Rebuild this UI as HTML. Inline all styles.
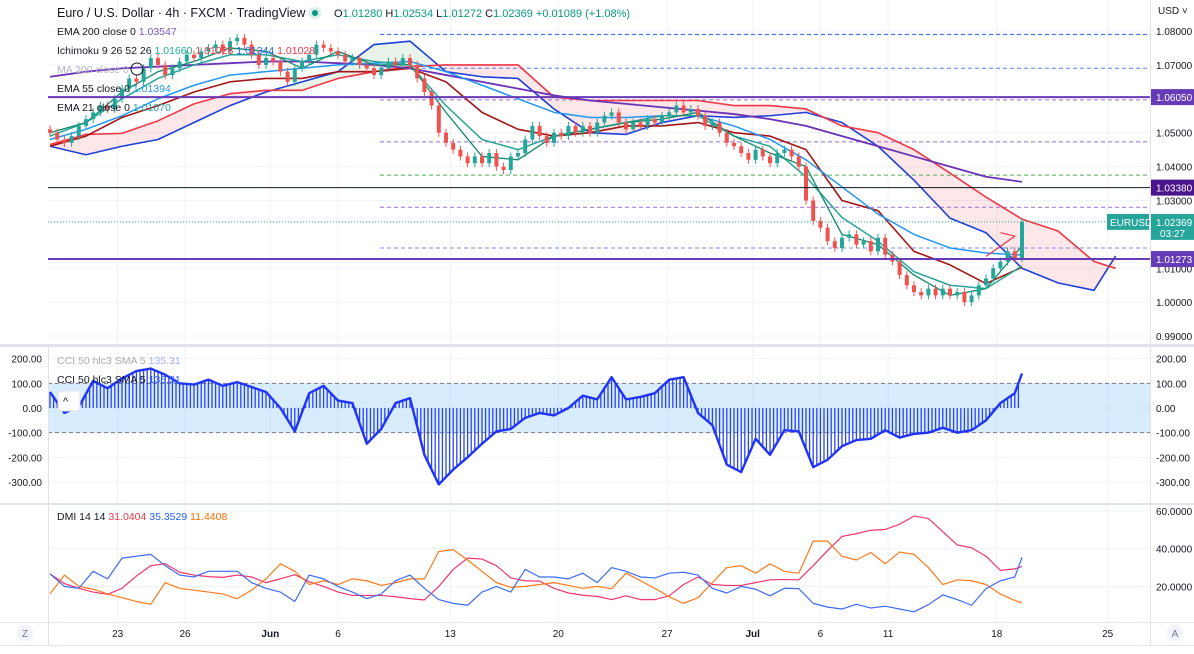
<!DOCTYPE html>
<html><head><meta charset="utf-8">
<style>
html,body{margin:0;padding:0;background:#fff;}
body{width:1194px;height:649px;overflow:hidden;font-family:"Liberation Sans",sans-serif;}
svg text{font-family:"Liberation Sans",sans-serif;}
</style></head>
<body>
<svg id="c" width="1194" height="649" viewBox="0 0 1194 649" xmlns="http://www.w3.org/2000/svg">
<defs>
<clipPath id="mainClip"><rect x="48" y="0" width="1102" height="343"/></clipPath>
<clipPath id="cciClip"><rect x="48" y="346" width="1102" height="156"/></clipPath>
<clipPath id="dmiClip"><rect x="48" y="505" width="1102" height="117"/></clipPath>
</defs>
<g id="grid"></g>
<g id="main" clip-path="url(#mainClip)"></g>
<g id="cci" clip-path="url(#cciClip)"></g>
<g id="dmi" clip-path="url(#dmiClip)"></g>
<g id="axes"></g>
<g id="legend">
<text x="57" y="17" font-size="12.5" fill="#131722">Euro / U.S. Dollar · 4h · FXCM · TradingView</text>
<circle cx="315" cy="13" r="6" fill="#d8efe9"/>
<circle cx="315" cy="13" r="3" fill="#089981"/>
<text x="334" y="17" font-size="11" fill="#089981"><tspan fill="#131722">O</tspan>1.01280 <tspan fill="#131722">H</tspan>1.02534 <tspan fill="#131722">L</tspan>1.01272 <tspan fill="#131722">C</tspan>1.02369 +0.01089 (+1.08%)</text>
<text x="57" y="35" font-size="10.5" fill="#131722">EMA 200 close 0 <tspan fill="#7e57c2">1.03547</tspan></text>
<text x="57" y="54" font-size="10.5" fill="#131722">Ichimoku 9 26 52 26 <tspan fill="#22ab94">1.01660</tspan> <tspan fill="#f23645">1.01028</tspan> <tspan fill="#2962ff">1.01344</tspan> <tspan fill="#f23645">1.01028</tspan></text>
<text x="57" y="73" font-size="10.5" fill="#b2b5be">MA 200 close 0</text>
<circle cx="137" cy="69" r="6" fill="none" stroke="#131722" stroke-width="1"/>
<text x="57" y="92" font-size="10.5" fill="#131722">EMA 55 close 0 <tspan fill="#2196f3">1.01394</tspan></text>
<text x="57" y="111" font-size="10.5" fill="#131722">EMA 21 close 0 <tspan fill="#26a69a">1.01070</tspan></text>
<rect x="58" y="391" width="22" height="20" rx="3" fill="#fff" stroke="#e0e3eb"/>
<text x="63" y="405" font-size="11" fill="#131722">^</text>
<text x="57" y="364" font-size="10.5" fill="#9598a1" opacity="0.8">CCI 50 hlc3 SMA 5 <tspan fill="#8c9eff">135.31</tspan></text>
<text x="57" y="383" font-size="10.5" fill="#131722">CCI 50 hlc3 SMA 5 <tspan fill="#2962ff">135.31</tspan></text>
<text x="57" y="520" font-size="10.5" fill="#131722">DMI 14 14 <tspan fill="#f23645"> 31.0404</tspan> <tspan fill="#2962ff">35.3529</tspan> <tspan fill="#ff6d00">11.4408</tspan></text>
</g>
</svg>
<script>
// ---- data ----
const closes=[1.050,1.048,1.047,1.049,1.052,1.054,1.056,1.058,1.057,1.060,1.063,1.066,1.065,1.069,1.072,1.070,1.067,1.069,1.071,1.073,1.072,1.074,1.075,1.076,1.074,1.077,1.078,1.076,1.073,1.070,1.072,1.071,1.068,1.065,1.069,1.071,1.073,1.076,1.075,1.074,1.073,1.071,1.072,1.070,1.069,1.067,1.069,1.071,1.070,1.072,1.070,1.066,1.062,1.058,1.050,1.047,1.045,1.043,1.041,1.043,1.041,1.044,1.040,1.039,1.043,1.044,1.048,1.052,1.049,1.047,1.050,1.049,1.052,1.050,1.052,1.050,1.053,1.055,1.056,1.053,1.051,1.053,1.052,1.054,1.053,1.055,1.056,1.058,1.056,1.057,1.055,1.052,1.053,1.050,1.047,1.046,1.044,1.042,1.045,1.043,1.041,1.044,1.045,1.043,1.040,1.030,1.024,1.022,1.018,1.016,1.019,1.020,1.017,1.018,1.015,1.019,1.014,1.012,1.008,1.005,1.003,1.002,1.004,1.002,1.004,1.002,1.003,1.000,1.002,1.005,1.007,1.010,1.012,1.015,1.013,1.0237];
const firstOpen=1.051;
const ema200=[1.0665,1.068,1.069,1.0695,1.070,1.0705,1.071,1.071,1.0705,1.070,1.069,1.067,1.065,1.063,1.061,1.0595,1.0585,1.0575,1.0565,1.0555,1.054,1.052,1.049,1.046,1.043,1.040,1.037,1.0355];
const ema55=[1.048,1.051,1.055,1.060,1.064,1.067,1.068,1.069,1.070,1.0705,1.071,1.068,1.064,1.060,1.056,1.0545,1.0545,1.055,1.055,1.052,1.048,1.042,1.034,1.026,1.020,1.016,1.0145,1.0139];
const ema21=[1.049,1.053,1.060,1.066,1.070,1.073,1.073,1.071,1.073,1.071,1.070,1.058,1.048,1.045,1.049,1.051,1.053,1.055,1.055,1.049,1.046,1.037,1.025,1.018,1.009,1.005,1.004,1.0107];
const tenkan=[1.050,1.053,1.062,1.068,1.071,1.075,1.074,1.069,1.074,1.070,1.070,1.056,1.043,1.042,1.049,1.051,1.053,1.054,1.056,1.049,1.044,1.040,1.020,1.017,1.008,1.002,1.004,1.0166];
const kijun=[1.046,1.049,1.0545,1.058,1.062,1.065,1.066,1.066,1.068,1.068,1.069,1.065,1.056,1.051,1.049,1.050,1.052,1.052,1.053,1.050,1.049,1.045,1.030,1.027,1.015,1.011,1.0055,1.0103];
const spanA=[1.046,1.0435,1.046,1.048,1.053,1.058,1.062,1.065,1.068,1.076,1.077,1.068,1.0665,1.066,1.057,1.050,1.0495,1.053,1.055,1.0545,1.055,1.056,1.053,1.046,1.036,1.0248,1.0205,1.010,1.0057,1.0035,1.0136];
const spanB=[1.0465,1.0495,1.0498,1.0535,1.0585,1.0615,1.0625,1.0625,1.066,1.068,1.0695,1.070,1.070,1.070,1.0605,1.0595,1.0595,1.0595,1.0595,1.058,1.058,1.057,1.052,1.050,1.045,1.0381,1.031,1.0245,1.021,1.012,1.010];
const cloudIdx=[0,5,10,15,20,25,30,35,40,45,50,55,60,65,70,75,80,85,90,95,100,105,110,115,120,125,130,135,140,145,148];
const cciVals=[65,-20,5,110,80,120,150,160,135,100,95,115,90,105,85,65,0,-95,60,90,30,20,-145,-85,20,40,-190,-310,-250,-200,-145,-95,-85,-40,-20,-30,0,50,35,125,35,45,60,115,125,-20,-70,-230,-260,-125,-190,-90,-95,-240,-210,-155,-130,-125,-90,-120,-105,-100,-80,-100,-90,-50,20,60,140];
const plusDI=[26.7,20,19,28,24,35,36,37,31,26,25,28,28,28,22,19,17,12,26,24,20,17,13.5,16,23,26,19,13,11,10,17,20,17,29,25,25,24,27,22,30,28,25,24.5,27,27.5,26,19,16.5,20,18.5,15,19,18.8,11,9,8,10.5,8.5,9.5,8,6.5,10.3,15.5,13,10,18.8,23,25,35.4];
const adx=[26.7,21.5,19,17,15.8,19,25.5,31,32,27.5,26,25.2,24.8,26,25,22,24,26.2,22.5,20,17,15.2,15.2,15.2,14.5,13.5,12.8,20,29,35,34.5,31,24.5,23,22.8,19,16.5,15.3,14.7,13,15,13,13,15,21,25,21,20.5,20.5,22,23.5,23.7,23.5,31,39,46.5,48,49.8,50.2,53,57.3,56,49,42,40.5,36,28.5,29.3,30.6];
const minusDI=[16,26,20,18.5,16,14,12,10.5,22,19,18,17,16,13.5,18,24,32,28,21,23,21,24,23,20.5,22,24,24,38.5,39.5,34,28,22,19.5,20,21,22,20.5,19,20,18.8,27,23,19,14.5,11,14,22,30,31,27,32,28,27,44,44,36,34,38,32,38.2,37,30,21,23.5,23,21,16,12.5,11.2];
const priceTicks=[1.08,1.07,1.05,1.04,1.03,1.01,1.00,0.99];
const priceTickLabels=["1.08000","1.07000","1.05000","1.04000","1.03000","1.01000","1.00000","0.99000"];
const cciTicks=[200,100,0,-100,-200,-300];
const cciTickLabels=["200.00","100.00","0.00","-100.00","-200.00","-300.00"];
const dmiTicks=[60,40,20];
const dmiTickLabels=["60.0000","40.0000","20.0000"];
const dateIdx=[9.4,18.75,30.6,40,55.6,70.6,85.7,97.6,107,116.4,131.5,146.9];
const dateLabels=["23","26","Jun","6","13","20","27","Jul","6","11","18","25"];
const dateBold=[false,false,true,false,false,false,false,true,false,false,false,false];
const hLevels=[1.0605,1.0338,1.01273];
const hLabels=["1.06050","1.03380","1.01273"];
const hColors=["#673ab7","#4a148c","#673ab7"];
const dashLevels=[1.0790,1.0690,1.0597,1.0473,1.0375,1.0280,1.0160];
const dashColors=["#2962ff","#5b7cfa","#9c6ce0","#9c6ce0","#4caf50","#9c6ce0","#7b8cfa"];
const lastPrice=1.02369;

// ---- scales ----
const xi=i=>50+i*7.2;
const yp=p=>31+(1.08-p)*3390;
const yc=v=>408-v*0.2465;
const yd=v=>511+(60-v)*1.885;
const NS="http://www.w3.org/2000/svg";
function mk(tag,parent,attrs){const e=document.createElementNS(NS,tag);for(const k in attrs)e.setAttribute(k,attrs[k]);parent.appendChild(e);return e;}
const G=id=>document.getElementById(id);
const grid=G('grid'),main=G('main'),cci=G('cci'),dmi=G('dmi'),axes=G('axes');

dateIdx.forEach(i=>{const x=xi(i);
 const l=mk('line',grid,{x1:x,x2:x,y1:0,y2:622,stroke:'#f0f3fa','stroke-width':1});
 
 });
priceTicks.forEach(p=>{const l=mk('line',grid,{x1:48,x2:1150,y1:yp(p),y2:yp(p),stroke:'#f0f3fa'});
 
 });
cciTicks.forEach(v=>{const l=mk('line',grid,{x1:48,x2:1150,y1:yc(v),y2:yc(v),stroke:'#f0f3fa'});
 
 });
dmiTicks.forEach(v=>{const l=mk('line',grid,{x1:48,x2:1150,y1:yd(v),y2:yd(v),stroke:'#f0f3fa'});
 
 });

for(let k=0;k<cloudIdx.length-1;k++){
 const x1=xi(cloudIdx[k]),x2=xi(cloudIdx[k+1]);
 const up=(spanA[k]+spanA[k+1])>=(spanB[k]+spanB[k+1]);
 const pg=mk('polygon',main,{points:`${x1},${yp(spanA[k])} ${x2},${yp(spanA[k+1])} ${x2},${yp(spanB[k+1])} ${x1},${yp(spanB[k])}`,fill:up?'rgba(67,160,71,0.12)':'rgba(242,54,69,0.12)'});
 
 
}
function line(parent,vals,idxFn,yf,color,w,name){
 const pts=vals.map((v,k)=>xi(idxFn(k))+','+yf(v)).join(' ');
 const pl=mk('polyline',parent,{points:pts,fill:'none',stroke:color,'stroke-width':w,'stroke-linejoin':'round'});
 
 
 return pl;
}
dashLevels.forEach((p,k)=>{const l=mk('line',main,{x1:380,x2:1150,y1:yp(p),y2:yp(p),stroke:dashColors[k],'stroke-width':1,'stroke-dasharray':'4,3'});
 
 });
line(main,spanA,k=>cloudIdx[k],yp,'#1e3fd8',1.6,'ichimoku-span-a');
line(main,spanB,k=>cloudIdx[k],yp,'#f23645',1.6,'ichimoku-span-b');
line(main,kijun,k=>k*5,yp,'#a31515',1.6,'ichimoku-base-line');
line(main,ema200,k=>k*5,yp,'#6a32b8',1.8,'ema-200-line');
line(main,ema55,k=>k*5,yp,'#2196f3',1.5,'ema-55-line');
line(main,ema21,k=>k*5,yp,'#26a69a',1.5,'ema-21-line');
line(main,tenkan,k=>k*5,yp,'#0d8a6a',1.3,'ichimoku-conversion-line');

closes.forEach((c,i)=>{
 const o=i===0?firstOpen:closes[i-1];
 const up=c>=o,col=up?'#26a69a':'#ef5350';
 const x=xi(i),yt=yp(Math.max(o,c)),yb=yp(Math.min(o,c));
 const w=mk('line',main,{x1:x,x2:x,y1:yt-4,y2:yb+4,stroke:col,'stroke-width':1});
 
 
 const r=mk('rect',main,{x:x-2,y:yt,width:4,height:Math.max(1,yb-yt),fill:col});
 
 
});
const lp=mk('line',main,{x1:48,x2:1150,y1:yp(lastPrice),y2:yp(lastPrice),stroke:'#26a69a','stroke-width':1,'stroke-dasharray':'1,2'});


hLevels.forEach((p,k)=>{const l=mk('line',main,{x1:48,x2:1150,y1:yp(p),y2:yp(p),stroke:k===1?'#131722':hColors[k],'stroke-width':k===1?1:2});
 
 });
const ar=mk('polyline',main,{points:`${xi(130)},${yp(1.0135)} ${xi(134)},${yp(1.0195)} ${xi(132)},${yp(1.0205)} ${xi(134)},${yp(1.0195)} ${xi(133)},${yp(1.0180)}`,fill:'none',stroke:'#f23645','stroke-width':1.2});



const band=mk('rect',cci,{x:48,y:yc(100),width:1102,height:yc(-100)-yc(100),fill:'rgba(33,150,243,0.18)'});


[100,-100].forEach(v=>{const l=mk('line',cci,{x1:48,x2:1150,y1:yc(v),y2:yc(v),stroke:'#787b86','stroke-dasharray':'4,3'});
 
 });
const cIdx=k=>Math.min(k*2,135);
for(let k=0;k<cciVals.length-1;k++){
 const xa=xi(cIdx(k)),xb=xi(cIdx(k+1)),n=Math.max(1,Math.round((xb-xa)/3.6));
 for(let s=0;s<n;s++){const t=s/n,x=xa+(xb-xa)*t,v=cciVals[k]+(cciVals[k+1]-cciVals[k])*t;
  const b=mk('line',cci,{x1:x,x2:x,y1:yc(0),y2:yc(v),stroke:'#2946f0','stroke-width':1.3});
  
  }
}
line(cci,cciVals,cIdx,yc,'#2133f5',2.4,'cci-line');

line(dmi,adx,cIdx,yd,'#f2366b',1.2,'adx-line');
line(dmi,minusDI,cIdx,yd,'#ff7a1a',1.2,'minus-di-line');
line(dmi,plusDI,cIdx,yd,'#3e6cf5',1.2,'plus-di-line');

function txt(parent,x,y,s,attrs,name){const t=mk('text',parent,Object.assign({x:x,y:y,'font-size':10,fill:'#131722'},attrs));t.textContent=s;
 
 return t;}
[[0,344,1194,3],[0,503,1194,2],[0,622,1194,1],[0,645,1194,1]].forEach(r=>{const s=mk('rect',axes,{x:r[0],y:r[1],width:r[2],height:r[3],fill:'#e0e3eb'});
 
 });
const vb=mk('line',axes,{x1:1150.5,x2:1150.5,y1:0,y2:645,stroke:'#e0e3eb'});


const lb=mk('line',axes,{x1:48.5,x2:48.5,y1:346,y2:645,stroke:'#e0e3eb'});


txt(axes,1158,14,'USD ˅',{'font-size':10},'currency-label');
priceTicks.forEach((p,k)=>txt(axes,1156,yp(p)+4,priceTickLabels[k],{},'price-tick-label'));
cciTicks.forEach((v,k)=>{txt(axes,1156,yc(v)+4,cciTickLabels[k],{},'cci-tick-label-right');
 txt(axes,42,yc(v)+4,cciTickLabels[k],{'text-anchor':'end'},'cci-tick-label-left');});
dmiTicks.forEach((v,k)=>txt(axes,1156,yd(v)+4,dmiTickLabels[k],{},'dmi-tick-label'));
dateIdx.forEach((i,k)=>txt(axes,xi(i),637,dateLabels[k],{'text-anchor':'middle','font-weight':dateBold[k]?'bold':'normal'},'date-label'));
hLevels.forEach((p,k)=>{const r=mk('rect',axes,{x:1151,y:yp(p)-8,width:43,height:16,fill:hColors[k]});
 
 
 txt(axes,1156,yp(p)+4,hLabels[k],{fill:'#fff'},'level-price-label');});
const lpy=yp(lastPrice);
const eb=mk('rect',axes,{x:1107,y:lpy-8,width:42,height:16,fill:'#26a69a'});


txt(axes,1110,lpy+4,'EURUSD',{fill:'#fff'},'symbol-tag-label');
const pb=mk('rect',axes,{x:1151,y:lpy-8,width:43,height:26,fill:'#26a69a'});


txt(axes,1156,lpy+4,'1.02369',{fill:'#fff'},'last-price-label');
txt(axes,1160,lpy+15,'03:27',{fill:'#fff'},'countdown-label');
const zc=mk('circle',axes,{cx:25,cy:633,r:8,fill:'#f0f3fa'});


txt(axes,25,637,'Z',{'text-anchor':'middle',fill:'#787b86','font-size':10},'zoom-reset-label');
const ac=mk('circle',axes,{cx:1175,cy:633,r:8,fill:'#f0f3fa'});


txt(axes,1175,637,'A',{'text-anchor':'middle',fill:'#787b86','font-size':10},'auto-scale-label');
</script>
</body></html>
